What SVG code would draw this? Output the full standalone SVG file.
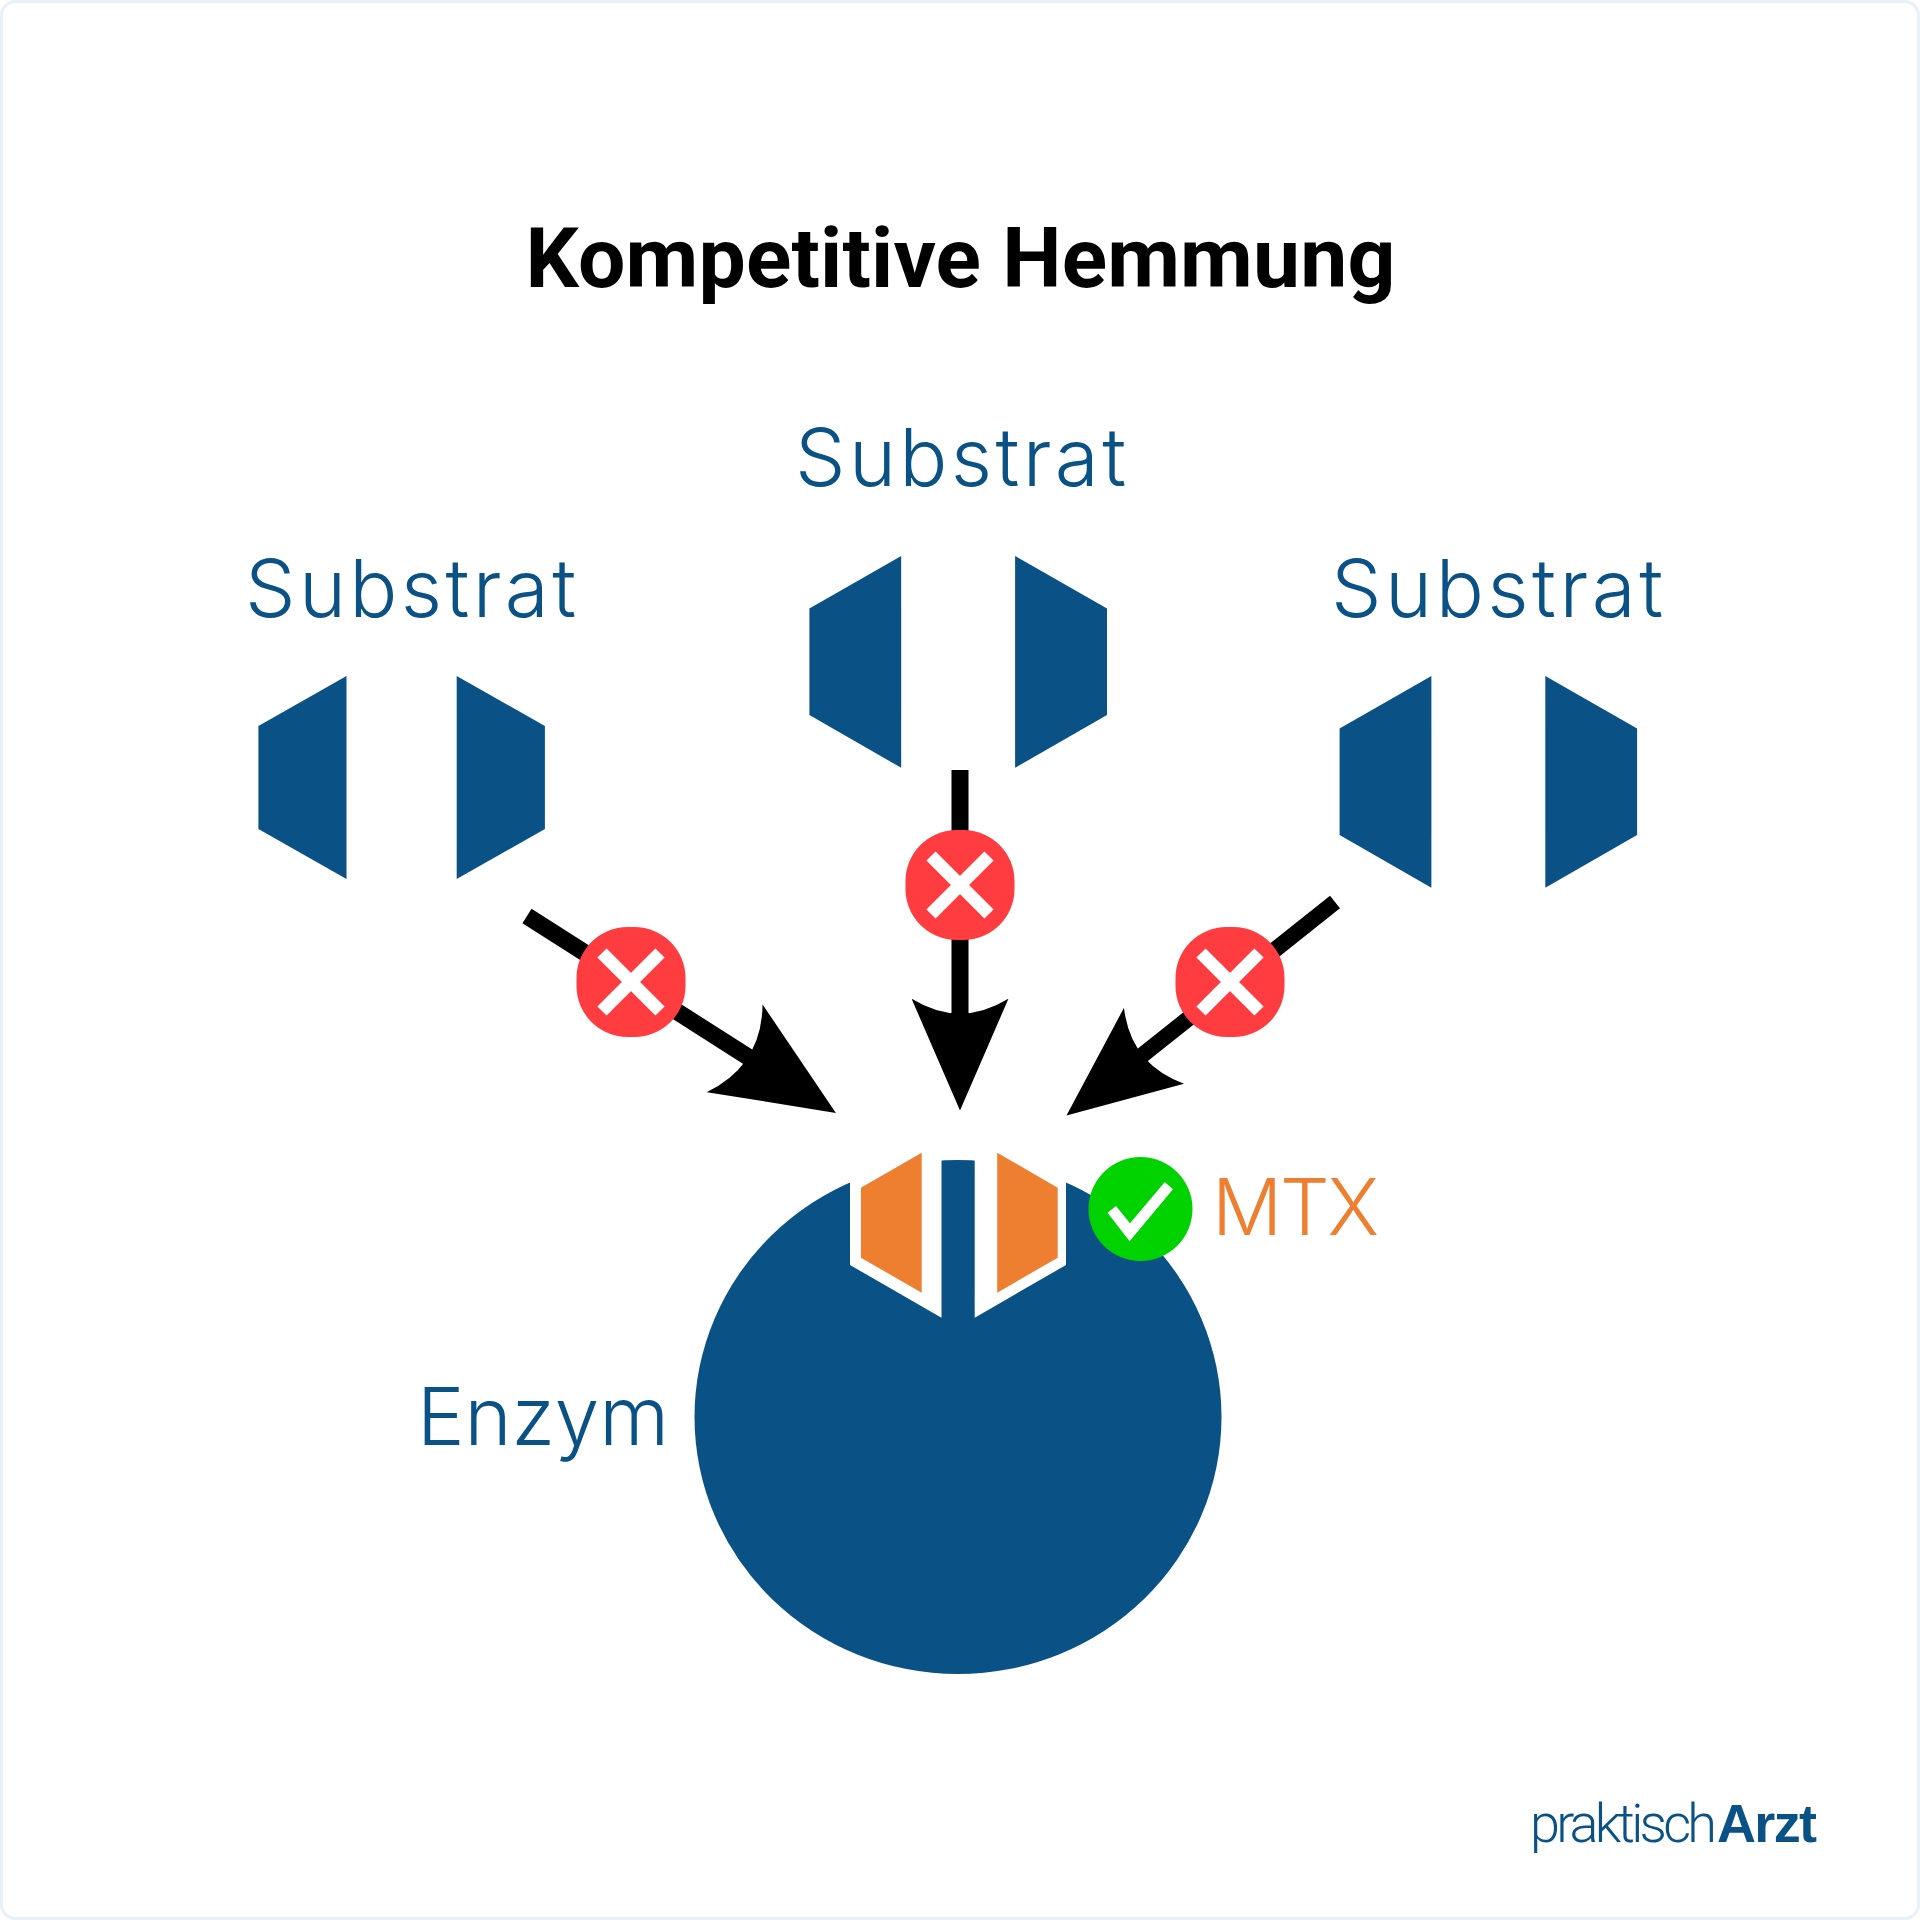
<svg xmlns="http://www.w3.org/2000/svg" width="1920" height="1920" viewBox="0 0 1920 1920">
<style>
.blue{fill:#0a5186}
.orange{fill:#ee7f31}
.lbl{font-family:Inter,"Open Sans","Liberation Sans",sans-serif;font-weight:350;font-size:80px}
.sub{fill:#0a5186}
.conn{stroke:#000;fill:none}
.red{fill:#ff3c3f}
.x{stroke:#fff;stroke-width:13;stroke-linecap:butt;fill:none}
</style>
<defs>
<path id="headshape" d="M0 0L112 48.5L0 97Q30 48.5 0 0Z" fill="#000"/>
<marker id="head" markerUnits="userSpaceOnUse" markerWidth="112" markerHeight="97" viewBox="0 0 112 97" refX="90" refY="48.5" orient="auto"><use href="#headshape"/></marker>
<marker id="headlg" markerUnits="userSpaceOnUse" markerWidth="121" markerHeight="104" viewBox="0 0 112 97" refX="90" refY="48.5" orient="auto"><use href="#headshape"/></marker>
<g id="cross"><rect x="-54.5" y="-55" width="109" height="110" rx="51" class="red"/><path class="x" d="M-29 -29L29 29M29 -29L-29 29"/></g>
</defs>
<rect x="1.5" y="1.5" width="1917" height="1917" rx="14" fill="#fff" stroke="#e8f1f8" stroke-width="3"/>
<text id="title" x="960.5" y="286.5" text-anchor="middle" font-family="Roboto,'Liberation Sans',sans-serif" font-weight="700" font-size="84" textLength="870" lengthAdjust="spacing" fill="#000">Kompetitive Hemmung</text>
<g id="connectors">
<line class="conn" stroke-width="17" x1="527" y1="916" x2="816" y2="1100.2" marker-end="url(#headlg)"/>
<line class="conn" stroke-width="17" x1="960" y1="770" x2="960" y2="1088.6" marker-end="url(#head)"/>
<line class="conn" stroke-width="16" x1="1335" y1="902" x2="1083.7" y2="1101.8" marker-end="url(#head)"/>
</g>
<g id="substrat-left">
<text class="lbl sub" x="245" y="617" textLength="331" lengthAdjust="spacing">Substrat</text>
<polygon class="blue" points="258.4,726 346.5,676 346.5,879 258.4,829"/>
<polygon class="blue" points="456.7,676 544.9,726 544.9,829 456.7,879"/>
</g>
<g id="substrat-middle">
<text class="lbl sub" x="795" y="486" textLength="331" lengthAdjust="spacing">Substrat</text>
<polygon class="blue" points="809.4,608.6 901.2,555.9 901.2,767.8 809.4,715.1"/>
<polygon class="blue" points="1015.1,555.9 1107,608.6 1107,715.1 1015.1,767.8"/>
</g>
<g id="substrat-right">
<text class="lbl sub" x="1331" y="617" textLength="332" lengthAdjust="spacing">Substrat</text>
<polygon class="blue" points="1339.6,728.6 1431.4,676 1431.4,887.8 1339.6,835"/>
<polygon class="blue" points="1545.3,676 1637.1,728.6 1637.1,835 1545.3,887.8"/>
</g>
<g id="block-left"><use href="#cross" x="631" y="982"/></g>
<g id="block-middle"><use href="#cross" x="960" y="885"/></g>
<g id="block-right"><use href="#cross" x="1230" y="982"/></g>
<g id="enzym">
<ellipse class="blue" cx="958" cy="1417" rx="263.5" ry="257"/>
<polygon fill="#fff" points="850,1100 850,1265 941.5,1317.7 941.5,1100"/>
<polygon fill="#fff" points="974.7,1100 974.7,1317.7 1066,1265 1066,1100"/>
<text class="lbl sub" x="417" y="1445" textLength="252" lengthAdjust="spacing">Enzym</text>
</g>
<g id="mtx">
<polygon class="orange" points="860.9,1187.7 921.7,1152.7 921.7,1292.7 860.9,1257.7"/>
<polygon class="orange" points="997.2,1152.7 1057.7,1187.7 1057.7,1257.7 997.2,1292.7"/>
<circle cx="1140.5" cy="1209" r="52" fill="#00d200"/>
<polygon fill="#fff" points="1107.5,1212.7 1116,1206 1130,1223.3 1164.8,1182 1173,1189.3 1129.6,1241.3"/>
<text class="lbl orange" x="1212" y="1235" textLength="167" lengthAdjust="spacing" style="font-size:78px">MTX</text>
</g>
<g id="logo">
<text x="1530" y="1841.7" font-family="Roboto,'Liberation Sans',sans-serif" font-weight="300" font-size="54" fill="#0a5186" textLength="187" lengthAdjust="spacing">praktisch</text>
<text x="1717" y="1841.7" font-family="'Liberation Sans',sans-serif" font-weight="700" font-size="54" fill="#0a5186" textLength="100" lengthAdjust="spacing">Arzt</text>
</g>
</svg>
